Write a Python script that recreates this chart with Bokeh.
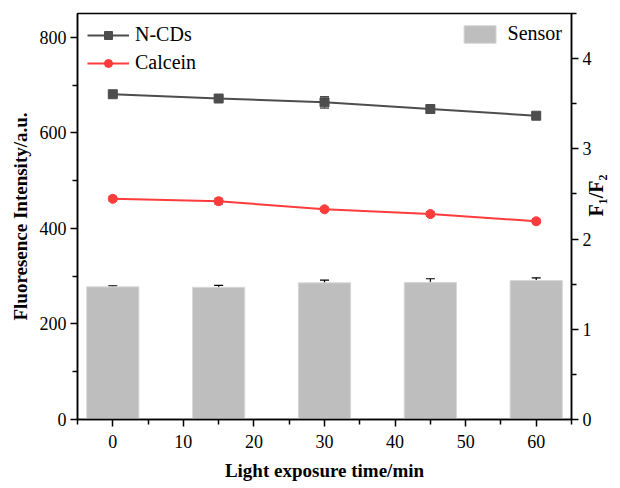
import math
from bokeh.plotting import figure
from bokeh.models import (ColumnDataSource, Range1d, LinearAxis, FixedTicker,
                          Whisker, TeeHead, Legend, LegendItem)
from bokeh.embed import file_html
from bokeh.resources import INLINE

# Light exposure times (min)
times = [0, 15, 30, 45, 60]

# Fluorescence intensity (a.u.)
ncds = [681, 672, 664, 650, 636]
ncds_err = [3, 4, 12, 8, 6]
calcein = [462, 457, 440, 430, 415]
calcein_err = [5, 6, 4, 5, 5]

# Ratiometric sensor response F1/F2
sensor = [1.47, 1.465, 1.515, 1.52, 1.54]
sensor_err = [0.01, 0.022, 0.03, 0.04, 0.03]

x_ticks = [0, 10, 20, 30, 40, 50, 60]
left_ticks = [0, 200, 400, 600, 800]
right_ticks = [0, 1, 2, 3, 4]

FONT = "Liberation Serif"

src = ColumnDataSource(dict(
    t=times,
    ncds=ncds, ncds_lo=[v - e for v, e in zip(ncds, ncds_err)], ncds_hi=[v + e for v, e in zip(ncds, ncds_err)],
    cal=calcein, cal_lo=[v - e for v, e in zip(calcein, calcein_err)], cal_hi=[v + e for v, e in zip(calcein, calcein_err)],
    sen=sensor, sen_lo=[v - e for v, e in zip(sensor, sensor_err)], sen_hi=[v + e for v, e in zip(sensor, sensor_err)],
))

p = figure(width=620, height=488, output_backend="svg", toolbar_location=None,
           x_range=Range1d(-5, 65), y_range=Range1d(0, 850),
           min_border_left=77, min_border_right=46, min_border_top=13, min_border_bottom=69)
p.extra_y_ranges = {"ratio": Range1d(0, 4.5)}
p.grid.visible = False
p.outline_line_color = "black"
p.outline_line_width = 1.5
p.background_fill_color = "white"
p.border_fill_color = "white"

# Sensor bars on the right-hand scale
bars = p.vbar(x="t", top="sen", width=7.4, source=src, y_range_name="ratio",
              fill_color="#bebebe", line_color="#d8d8d8", line_width=1)
p.add_layout(Whisker(base="t", lower="sen_lo", upper="sen_hi", source=src, y_range_name="ratio",
                     line_color="black", line_width=1.2,
                     upper_head=TeeHead(size=9, line_color="black", line_width=1.2),
                     lower_head=TeeHead(size=9, line_color="black", line_width=1.2)))

# N-CDs intensity
l1 = p.line("t", "ncds", source=src, line_color="#4d4d4d", line_width=2)
m1 = p.scatter("t", "ncds", source=src, marker="square", size=9,
               fill_color="#4d4d4d", line_color="#4d4d4d")
p.add_layout(Whisker(base="t", lower="ncds_lo", upper="ncds_hi", source=src,
                     line_color="#4d4d4d", line_width=1.2,
                     upper_head=TeeHead(size=9, line_color="#4d4d4d", line_width=1.2),
                     lower_head=TeeHead(size=9, line_color="#4d4d4d", line_width=1.2)))

# Calcein intensity
l2 = p.line("t", "cal", source=src, line_color="#ff3b3b", line_width=2)
m2 = p.scatter("t", "cal", source=src, marker="circle", size=9,
               fill_color="#ff3b3b", line_color="#ff3b3b")
p.add_layout(Whisker(base="t", lower="cal_lo", upper="cal_hi", source=src,
                     line_color="black", line_width=1.2,
                     upper_head=TeeHead(size=8, line_color="black", line_width=1.2),
                     lower_head=TeeHead(size=8, line_color="black", line_width=1.2)))

# Axes
right_axis = LinearAxis(y_range_name="ratio", axis_label="F₁/F₂")
p.add_layout(right_axis, "right")

p.xaxis.ticker = FixedTicker(ticks=x_ticks, minor_ticks=[-5, 5, 15, 25, 35, 45, 55, 65])
p.yaxis[0].ticker = FixedTicker(ticks=left_ticks, minor_ticks=[100, 300, 500, 700])
right_axis.ticker = FixedTicker(ticks=right_ticks, minor_ticks=[0.5, 1.5, 2.5, 3.5, 4.5])

p.xaxis.axis_label = "Light exposure time/min"
p.yaxis[0].axis_label = "Fluoresence Intensity/a.u."

for ax in [p.xaxis[0], p.yaxis[0], right_axis]:
    ax.axis_line_color = "black"
    ax.axis_line_width = 1.5
    ax.major_tick_line_color = "black"
    ax.minor_tick_line_color = "black"
    ax.major_tick_line_width = 1.5
    ax.minor_tick_line_width = 1.5
    ax.major_tick_in = 0
    ax.major_tick_out = 7
    ax.minor_tick_in = 0
    ax.minor_tick_out = 5
    ax.major_label_text_font = FONT
    ax.major_label_text_font_size = "18px"
    ax.major_label_text_color = "black"
    ax.axis_label_text_font = FONT
    ax.axis_label_text_font_size = "19px"
    ax.axis_label_text_font_style = "bold"
    ax.axis_label_text_color = "black"

p.xaxis.major_label_standoff = 8
p.xaxis.axis_label_standoff = 9
p.yaxis[0].major_label_standoff = 4
p.yaxis[0].axis_label_standoff = 6
right_axis.major_label_standoff = 4
right_axis.axis_label_standoff = 1
# Right-hand title reads bottom-to-top
right_axis.axis_label_orientation = math.pi / 2
right_axis.axis_label_text_font_size = "20px"

# Legends
leg1 = Legend(items=[LegendItem(label="N-CDs", renderers=[l1, m1]),
                     LegendItem(label="Calcein", renderers=[l2, m2])],
              location="top_left")
leg2 = Legend(items=[LegendItem(label="Sensor", renderers=[bars])],
              location="top_right")
for lg in (leg1, leg2):
    lg.label_text_font = FONT
    lg.label_text_font_size = "20px"
    lg.label_text_color = "black"
    lg.border_line_color = None
    lg.background_fill_alpha = 0
    lg.glyph_width = 42
    lg.glyph_height = 20
    lg.label_standoff = 6
    lg.spacing = 5
    lg.margin = 10
    lg.padding = 12
leg2.glyph_width = 40
leg2.glyph_height = 22
leg2.label_standoff = 8
leg2.margin = 9
leg2.padding = 12
p.add_layout(leg1)
p.add_layout(leg2)

open("out.html", "w").write(file_html(p, INLINE))
